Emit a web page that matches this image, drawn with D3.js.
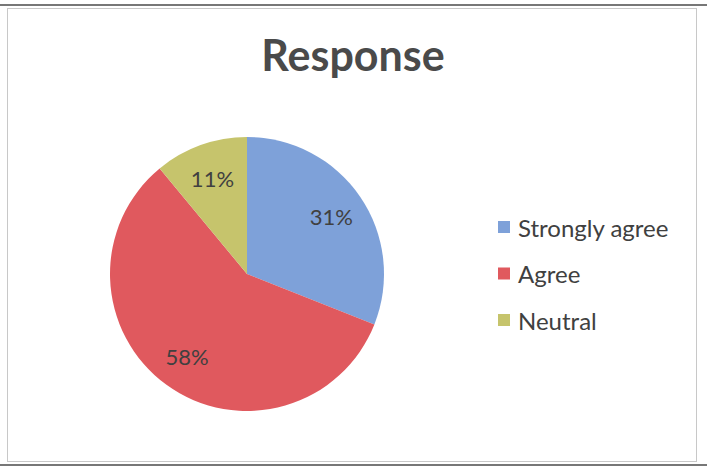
<!DOCTYPE html>
<html><head><meta charset="utf-8">
<script src="https://cdn.jsdelivr.net/npm/d3@7"></script>
<style>body{margin:0;background:#fff}svg{display:block}</style>
</head><body>
<script>
const categories = ["Strongly agree", "Agree", "Neutral"];
const values = [31, 58, 11];
const colors = ["#7ea1d9", "#e0595e", "#c6c46c"];
const title = "Response";

const W = 707, H = 468;
const svg = d3.select("body").append("svg").attr("width", W).attr("height", H);
svg.append("rect").attr("x", 0).attr("y", 0).attr("width", W).attr("height", H).attr("fill", "#fff");
// frame
svg.append("line").attr("x1", 0).attr("x2", W).attr("y1", 5).attr("y2", 5).attr("stroke", "#777").attr("stroke-width", 2);
svg.append("line").attr("x1", 0).attr("x2", W).attr("y1", 465).attr("y2", 465).attr("stroke", "#777").attr("stroke-width", 2);
svg.append("rect").attr("x", 7.5).attr("y", 8.5).attr("width", 689).attr("height", 453)
  .attr("fill", "none").attr("stroke", "#c8c8c8").attr("stroke-width", 1);

const font = "Lato, 'Open Sans', sans-serif";
svg.append("text").attr("x", 353).attr("y", 71).attr("text-anchor", "middle")
  .attr("font-family", font).attr("font-weight", "bold").attr("font-size", 43)
  .attr("fill", "#4a4a4a").text(title);

const cx = 247, cy = 274, r = 137;
const data = categories.map((c, i) => ({cat: c, v: values[i], color: colors[i]}));
const pie = d3.pie().value(d => d.v).sort(null);
const arc = d3.arc().innerRadius(0).outerRadius(r);
const labelArc = d3.arc().innerRadius(102).outerRadius(102);
const g = svg.append("g").attr("transform", `translate(${cx},${cy})`);
const arcs = pie(data);
g.selectAll("path").data(arcs).join("path").attr("d", arc).attr("fill", d => d.data.color);
g.selectAll("text").data(arcs).join("text")
  .attr("transform", d => `translate(${labelArc.centroid(d)})`)
  .attr("text-anchor", "middle").attr("dominant-baseline", "central")
  .attr("font-family", font).attr("font-size", 22).attr("fill", "#404040")
  .text(d => d.data.v + "%");

const leg = svg.append("g");
const ly = d3.scalePoint().domain(categories).range([227, 320]);
leg.selectAll("rect").data(data).join("rect")
  .attr("x", 498).attr("y", d => ly(d.cat) - 6).attr("width", 12).attr("height", 12)
  .attr("fill", d => d.color);
leg.selectAll("text").data(data).join("text")
  .attr("x", 518).attr("y", d => ly(d.cat)).attr("dominant-baseline", "central")
  .attr("font-family", font).attr("font-size", 24).attr("fill", "#404040")
  .text(d => d.cat);
</script>
</body></html>
